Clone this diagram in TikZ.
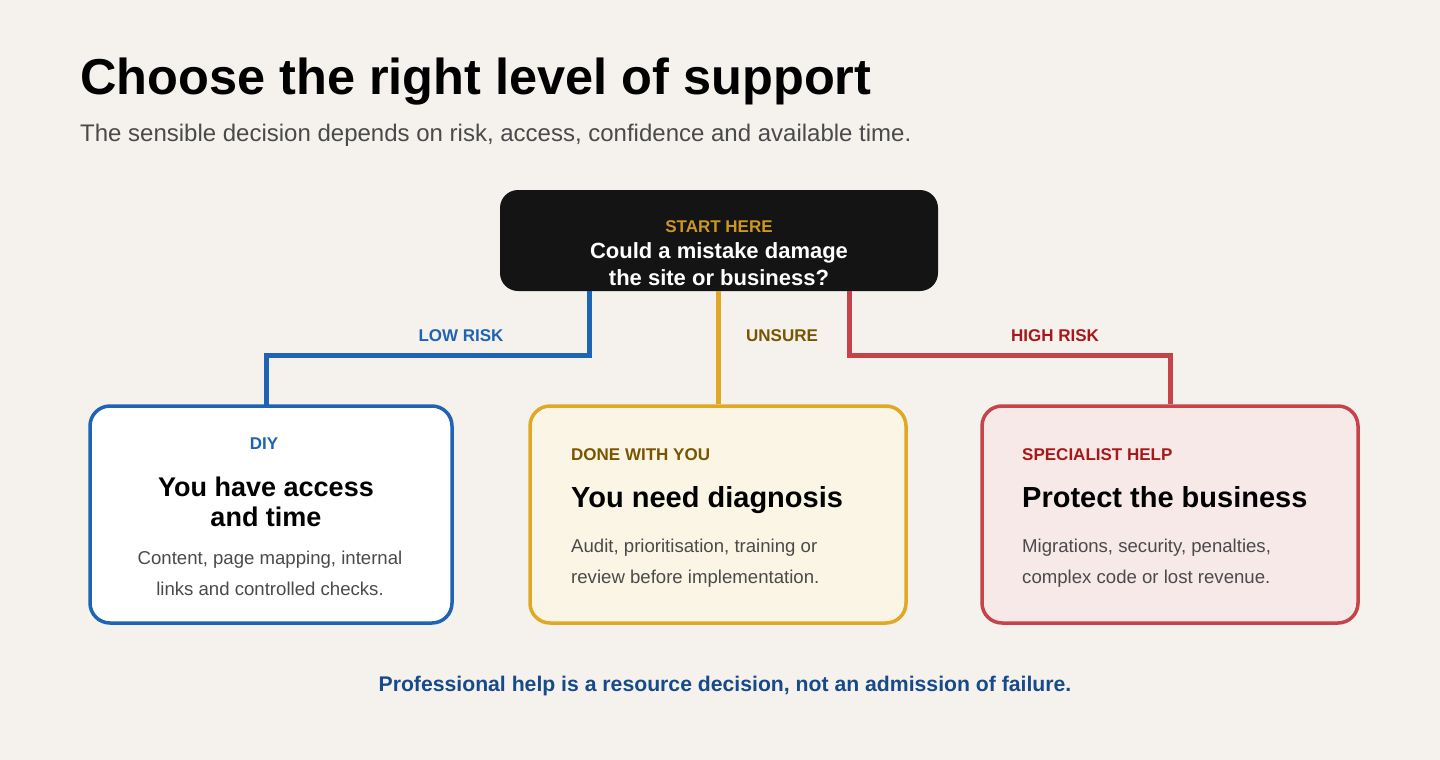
\documentclass[tikz,border=0pt]{standalone}
\usepackage{fontspec}
\setmainfont{Liberation Sans}
\begin{document}
\definecolor{bg}{HTML}{F5F2EE}
\definecolor{cblue}{HTML}{1F63B5}
\definecolor{cgold}{HTML}{E0A825}
\definecolor{cred}{HTML}{C4444A}
\definecolor{dgold}{HTML}{7A5500}
\definecolor{dred}{HTML}{A81818}
\definecolor{gtext}{HTML}{4A4A4A}
\definecolor{navy}{HTML}{164A8A}
\begin{tikzpicture}[x=1pt,y=-1pt,
  box/.style={draw,line width=3.5pt,rounded corners=20pt,minimum height=217pt,inner sep=0pt},
  conn/.style={line width=5pt},
  tag/.style={font=\fontsize{17}{20}\selectfont\bfseries},
  head/.style={font=\fontsize{29}{30}\selectfont\bfseries},
  body/.style={font=\fontsize{18.6}{31}\selectfont,text=gtext}]
\fill[bg] (0,0) rectangle (1440,760);
\useasboundingbox (0,0) rectangle (1440,760);
\node[anchor=base west,inner sep=0,font=\fontsize{50.5}{56}\selectfont\bfseries] (title) at (80,94) {Choose the right level of support};
\node[anchor=base west,inner sep=0,font=\fontsize{24}{26}\selectfont,text=gtext] (sub) at (80,141) {The sensible decision depends on risk, access, confidence and available time.};
% start
\node[fill=black!92,rounded corners=18pt,minimum width=438pt,minimum height=101pt,inner sep=0] (start) at (719,240.5) {};
\node[tag,text=cgold!90!black,anchor=base] (st) at (719,232) {START HERE};
\node[anchor=base,text=white,align=center,font=\fontsize{22}{27}\selectfont\bfseries] (sq) at (719,285) {Could a mistake damage\\the site or business?};
% boxes
\node[box,fill=white,draw=cblue,minimum width=362pt] (diy) at (271,514.5) {};
\node[box,fill=cgold!12!white,draw=cgold,minimum width=376pt] (dwy) at (718,514.5) {};
\node[box,fill=cred!12!white,draw=cred,minimum width=376pt] (sh) at (1170,514.5) {};
% connectors
\coordinate (b1) at (589,291);\coordinate (b2) at (718,291);\coordinate (b3) at (849,291);
\draw[conn,cblue] (b1) -- (589,355) -- (266,355) -- (266,405);
\draw[conn,cgold] (b2) -- (dwy.north);
\draw[conn,cred] (b3) -- (849,355) -- (1170,355) -- (sh.north);
\node[tag,text=cblue,anchor=base] (l1) at (461,341) {LOW RISK};
\node[tag,text=dgold,anchor=base] (l2) at (782,341) {UNSURE};
\node[tag,text=dred,anchor=base] (l3) at (1055,341) {HIGH RISK};
% diy text
\node[tag,text=cblue,anchor=base] (t1) at (264,449) {DIY};
\node[head,anchor=base,align=center,font=\fontsize{27}{30}\selectfont\bfseries] (h1) at (266,526) {You have access\\and time};
\node[body,anchor=base,align=center] (d1) at (270,595) {Content, page mapping, internal\\links and controlled checks.};
% dwy text
\node[tag,text=dgold,anchor=base west,inner sep=0] (t2) at (571,460) {DONE WITH YOU};
\node[head,anchor=base west,inner sep=0] (h2) at (571,507) {You need diagnosis};
\node[body,anchor=base west,inner sep=0,align=left] (d2) at (571,583) {Audit, prioritisation, training or\\review before implementation.};
% sh text
\node[tag,text=dred,anchor=base west,inner sep=0] (t3) at (1022,460) {SPECIALIST HELP};
\node[head,anchor=base west,inner sep=0] (h3) at (1022,507) {Protect the business};
\node[body,anchor=base west,inner sep=0,align=left] (d3) at (1022,583) {Migrations, security, penalties,\\complex code or lost revenue.};
\node[anchor=base,text=navy,font=\fontsize{21.2}{24}\selectfont\bfseries] (foot) at (725,691) {Professional help is a resource decision, not an admission of failure.};
\end{tikzpicture}
\end{document}
